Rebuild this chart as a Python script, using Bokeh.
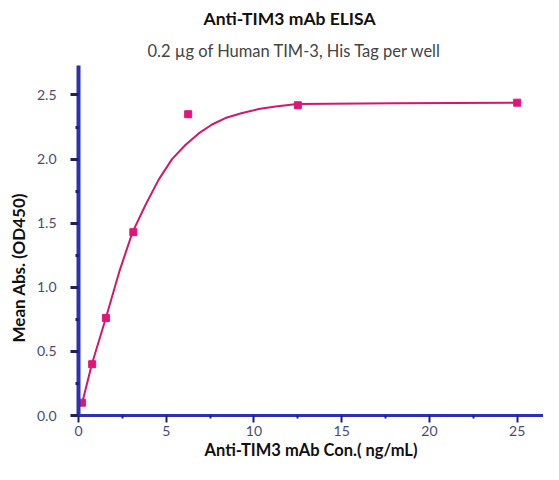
from bokeh.plotting import figure
from bokeh.models import Range1d, Title, FixedTicker, CustomJSTickFormatter
from bokeh.embed import file_html
from bokeh.resources import INLINE

# measured points
conc = [0.195, 0.78, 1.5625, 3.125, 6.25, 12.5, 25]
od450 = [0.10, 0.40, 0.76, 1.43, 2.35, 2.42, 2.44]

# fitted curve
fit_x = [0.195, 0.76, 1.56, 2.32, 3.08, 3.81, 4.57, 5.33, 6.09, 6.85, 7.61, 8.37,
         9.33, 10.27, 11.23, 12.47, 18.0, 24.8]
fit_y = [0.09, 0.40, 0.76, 1.12, 1.43, 1.64, 1.84, 2.00, 2.11, 2.20, 2.27, 2.32,
         2.36, 2.39, 2.41, 2.43, 2.435, 2.44]

x_ticks = [0, 5, 10, 15, 20, 25]
x_minor = [2.5, 7.5, 12.5, 17.5, 22.5]
y_ticks = [0.0, 0.5, 1.0, 1.5, 2.0, 2.5]
y_minor = [0.25, 0.75, 1.25, 1.75, 2.25]

title_text = "Anti-TIM3 mAb ELISA"
subtitle_text = "0.2 µg of Human TIM-3, His Tag per well"
x_label = "Anti-TIM3 mAb Con.( ng/mL)"
y_label = "Mean Abs. (OD450)"

FONT = "Lato"
AXIS_COLOR = "#2d31b0"
TICK_COLOR = "#1d2066"
PINK = "#e0157a"

p = figure(width=543, height=464, output_backend="svg", toolbar_location=None,
           x_range=Range1d(0, 26.5), y_range=Range1d(0, 2.73),
           min_border_left=78, min_border_right=0, min_border_top=63, min_border_bottom=49)
p.outline_line_color = None
p.grid.visible = False
p.background_fill_color = None
p.border_fill_color = "white"

p.add_layout(Title(text=subtitle_text, align="left", offset=69,
                   text_font=FONT, text_font_size="16.5px", text_font_style="normal",
                   text_color="#444444"), "above")
p.add_layout(Title(text=title_text, align="left", offset=125,
                   text_font=FONT, text_font_size="17.5px", text_font_style="bold",
                   text_color="#111111"), "above")

p.line(fit_x, fit_y, line_color="#d0186c", line_width=2)
p.scatter(conc, od450, marker="square", size=7, fill_color=PINK, line_color=PINK)

p.axis.axis_line_color = AXIS_COLOR
p.axis.major_tick_line_color = TICK_COLOR
p.axis.minor_tick_line_color = TICK_COLOR
p.axis.major_tick_in = 0
p.axis.minor_tick_out = 3
p.axis.minor_tick_in = 0
p.axis.major_label_text_font = FONT
p.axis.major_label_text_color = "#4a4a78"
p.axis.axis_label_text_font = FONT
p.axis.axis_label_text_font_style = "bold"
p.axis.axis_label_text_color = "#111111"

p.xaxis.axis_line_width = 3
p.yaxis.axis_line_width = 4
p.xaxis.major_tick_line_width = 2
p.xaxis.minor_tick_line_width = 2
p.yaxis.major_tick_line_width = 3
p.yaxis.minor_tick_line_width = 3
p.xaxis.major_tick_out = 7
p.yaxis.major_tick_out = 8
p.xaxis.major_label_text_font_size = "14px"
p.yaxis.major_label_text_font_size = "14px"
p.xaxis.axis_label_text_font_size = "16.5px"

p.xaxis.ticker = FixedTicker(ticks=x_ticks, minor_ticks=x_minor)
p.yaxis.ticker = FixedTicker(ticks=y_ticks, minor_ticks=y_minor)
p.yaxis.formatter = CustomJSTickFormatter(code="return tick.toFixed(1);")
p.xaxis.axis_label = x_label
p.xaxis.major_label_standoff = 3
p.xaxis.axis_label_standoff = 1
p.yaxis.major_label_standoff = 14

p.add_layout(Title(text=y_label, align="left", offset=73, text_font=FONT,
                   text_font_size="17px", text_font_style="bold", text_color="#111111"), "left")

open("out.html", "w").write(file_html(p, INLINE))
